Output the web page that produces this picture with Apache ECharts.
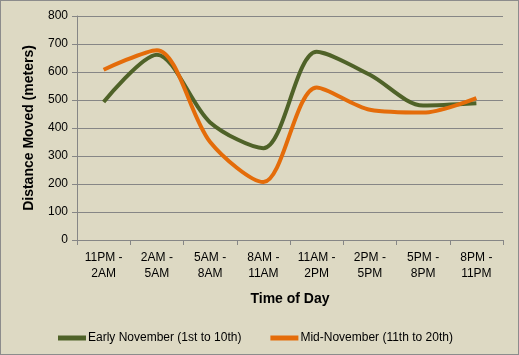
<!DOCTYPE html>
<html><head><meta charset="utf-8">
<script src="https://cdn.jsdelivr.net/npm/echarts@6/dist/echarts.min.js"></script>
<style>html,body{margin:0;padding:0;background:#ddd9c3;}#c{width:517px;height:353px;border:1px solid #8c8c8c;}</style>
</head><body><div id="c"></div>
<script>
const categories = ['11PM -\n2AM','2AM -\n5AM','5AM -\n8AM','8AM -\n11AM','11AM -\n2PM','2PM -\n5PM','5PM -\n8PM','8PM -\n11PM'];
const earlyNov = [493, 662, 420, 328, 672, 590, 480, 488];
const midNov = [608, 678, 350, 207, 545, 465, 455, 507];
const yTicks = {min:0, max:800, interval:100};
const chart = echarts.init(document.getElementById('c'));
const font = 'Liberation Sans';
chart.setOption({
  backgroundColor:'#ddd9c3',
  animation:false,
  grid:{left:76, right:15, top:15, bottom:114},
  legend:{
    left:52, top:326, itemWidth:28, itemHeight:5, itemGap:29,
    icon:'rect',
    textStyle:{fontFamily:font, fontSize:12, color:'#000', padding:[0,0,0,-3]},
    data:['Early November (1st to 10th)','Mid-November (11th to 20th)']
  },
  xAxis:{
    type:'category', data:categories, boundaryGap:true,
    name:'Time of Day', nameLocation:'middle', nameGap:52,
    nameTextStyle:{fontFamily:font, fontSize:14, fontWeight:'bold', color:'#000'},
    axisLine:{lineStyle:{color:'#868686'}},
    axisTick:{show:true, length:5, lineStyle:{color:'#868686'}},
    axisLabel:{fontFamily:font, fontSize:12, color:'#000', margin:10, lineHeight:16, interval:0}
  },
  yAxis:{
    type:'value', min:yTicks.min, max:yTicks.max, interval:yTicks.interval,
    name:'Distance Moved (meters)', nameLocation:'middle', nameGap:41,
    nameTextStyle:{fontFamily:font, fontSize:14, fontWeight:'bold', color:'#000'},
    axisLine:{show:true, lineStyle:{color:'#868686'}},
    axisTick:{show:true, length:5, lineStyle:{color:'#868686'}},
    splitLine:{lineStyle:{color:'#868686'}},
    axisLabel:{fontFamily:font, fontSize:12, color:'#000', margin:9}
  },
  series:[
    {name:'Early November (1st to 10th)', type:'line', data:earlyNov, smooth:0.3, symbol:'none',
     lineStyle:{color:'#4f6228', width:4}, itemStyle:{color:'#4f6228'}},
    {name:'Mid-November (11th to 20th)', type:'line', data:midNov, smooth:0.3, symbol:'none',
     lineStyle:{color:'#e46c0a', width:4}, itemStyle:{color:'#e46c0a'}}
  ]
});
</script></body></html>
